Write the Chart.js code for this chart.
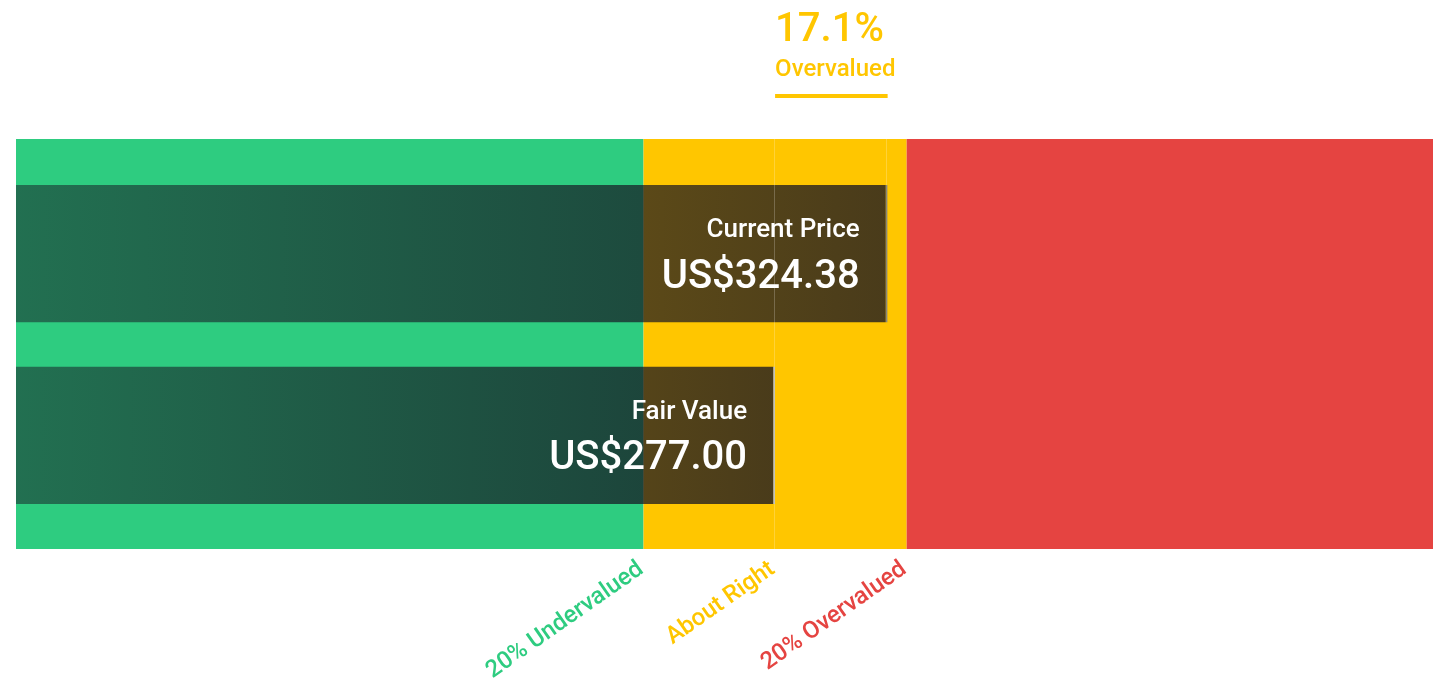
<!DOCTYPE html>
<html>
<head>
<meta charset="utf-8">
<script src="https://cdn.jsdelivr.net/npm/chart.js@4.4.1/dist/chart.umd.min.js"></script>
<style>
  html, body { margin: 0; padding: 0; background: #fff; }
  #wrap { width: 1437px; height: 679px; position: relative; }
</style>
</head>
<body>
<div id="wrap"><canvas id="grafico"></canvas></div>
<script>
// datos del grafico
const categorias = ['Current Price', 'Fair Value'];
const precios = [324.38, 277.00];
const etiquetasPrecio = ['US$324.38', 'US$277.00'];
const ejeX = [-42.6, 554];               // limites del eje
const limitesZona = [-42.6, 221.6, 332.4, 554];
const coloresZona = ['#2ecc80', '#ffc600', '#e54441'];
const nombresZona = ['20% Undervalued', 'About Right', '20% Overvalued'];
const posNombresZona = [221.6, 277.00, 332.4];
const titulo = ['17.1%', 'Overvalued'];

const FUENTE = 'Roboto, "Noto Sans", sans-serif';

function barras(chart){
  return chart.getDatasetMeta(0).data.map(function(b){
    return b.getProps(['x', 'y', 'base', 'height'], true);
  });
}

// franja de zonas: desde la primera barra menos el hueco hasta la ultima mas el hueco
function franja(b){
  const gap = (b[1].y - b[0].y) - b[0].height;
  const top = Math.floor(b[0].y - b[0].height / 2 - gap) - 1;
  const bottom = Math.ceil(b[b.length - 1].y + b[b.length - 1].height / 2 + gap);
  return {top: top, bottom: bottom};
}

const pluginZonas = {
  id: 'zonas',
  beforeDatasetsDraw(chart){
    const ctx = chart.ctx;
    const x = chart.scales.x;
    const f = franja(barras(chart));
    ctx.save();
    for (let i = 0; i < coloresZona.length; i++){
      const x1 = x.getPixelForValue(limitesZona[i]);
      const x2 = x.getPixelForValue(limitesZona[i + 1]);
      ctx.fillStyle = coloresZona[i];
      ctx.fillRect(x1, f.top, x2 - x1, f.bottom - f.top);
    }
    ctx.restore();
  },
  afterDatasetsDraw(chart){
    const ctx = chart.ctx;
    const x = chart.scales.x;
    const b = barras(chart);
    const f = franja(b);
    const xPrecio = x.getPixelForValue(precios[0]);
    const xJusto = x.getPixelForValue(precios[1]);

    ctx.save();
    // lineas finas
    ctx.strokeStyle = 'rgba(255,255,255,0.22)';
    ctx.lineWidth = 1;
    ctx.beginPath();
    ctx.moveTo(Math.round(xJusto) - 0.5, f.top);
    ctx.lineTo(Math.round(xJusto) - 0.5, f.bottom);
    ctx.moveTo(Math.round(xPrecio) - 1.5, f.top);
    ctx.lineTo(Math.round(xPrecio) - 1.5, b[0].y - b[0].height / 2);
    ctx.stroke();

    // textos de las barras
    ctx.fillStyle = '#ffffff';
    ctx.textAlign = 'right';
    ctx.textBaseline = 'alphabetic';
    b.forEach(function(bar, i){
      ctx.font = '500 26px ' + FUENTE;
      ctx.fillText(categorias[i], bar.x - 28, bar.y - 16.5);
      ctx.font = '500 40px ' + FUENTE;
      ctx.fillText(etiquetasPrecio[i], bar.x - 28, bar.y + 34);
    });

    // titulo arriba
    ctx.textAlign = 'left';
    ctx.fillStyle = coloresZona[1];
    ctx.font = '500 40px ' + FUENTE;
    ctx.fillText(titulo[0], xJusto, 41);
    ctx.font = '500 24px ' + FUENTE;
    ctx.fillText(titulo[1], xJusto, 76);
    ctx.fillRect(xJusto, 94, xPrecio - xJusto, 4);

    // etiquetas de zona
    ctx.font = '500 24px ' + FUENTE;
    ctx.textAlign = 'right';
    ctx.textBaseline = 'alphabetic';
    for (let i = 0; i < nombresZona.length; i++){
      ctx.save();
      ctx.translate(x.getPixelForValue(posNombresZona[i]) + 1, f.bottom + 23);
      ctx.rotate(-35 * Math.PI / 180);
      ctx.fillStyle = coloresZona[i];
      ctx.fillText(nombresZona[i], 0, 0);
      ctx.restore();
    }
    ctx.restore();
  }
};

const ctx = document.getElementById('grafico');
new Chart(ctx, {
  type: 'bar',
  data: {
    labels: categorias,
    datasets: [{
      data: precios.map(function(v){ return [ejeX[0], v]; }),
      backgroundColor: function(c){
        const area = c.chart.chartArea;
        if (!area) return 'rgba(22,20,34,0.6)';
        const fin = c.chart.scales.x.getPixelForValue(precios[c.dataIndex]);
        const g = c.chart.ctx.createLinearGradient(area.left, 0, fin, 0);
        g.addColorStop(0, 'rgba(22,20,34,0.5)');
        g.addColorStop(1, 'rgba(22,20,34,0.78)');
        return g;
      },
      borderColor: ['#8a877a', '#b5b2a8'],
      borderWidth: {top: 0, bottom: 0, left: 0, right: 2},
      borderSkipped: false,
      barPercentage: 1,
      categoryPercentage: 0.757
    }]
  },
  options: {
    indexAxis: 'y',
    responsive: true,
    maintainAspectRatio: false,
    animation: false,
    layout: { padding: { left: 16, right: 4, top: 163, bottom: 153 } },
    plugins: { legend: { display: false }, tooltip: { enabled: false } },
    scales: {
      x: { type: 'linear', min: ejeX[0], max: ejeX[1], display: false },
      y: { display: false }
    }
  },
  plugins: [pluginZonas]
});
</script>
</body>
</html>
